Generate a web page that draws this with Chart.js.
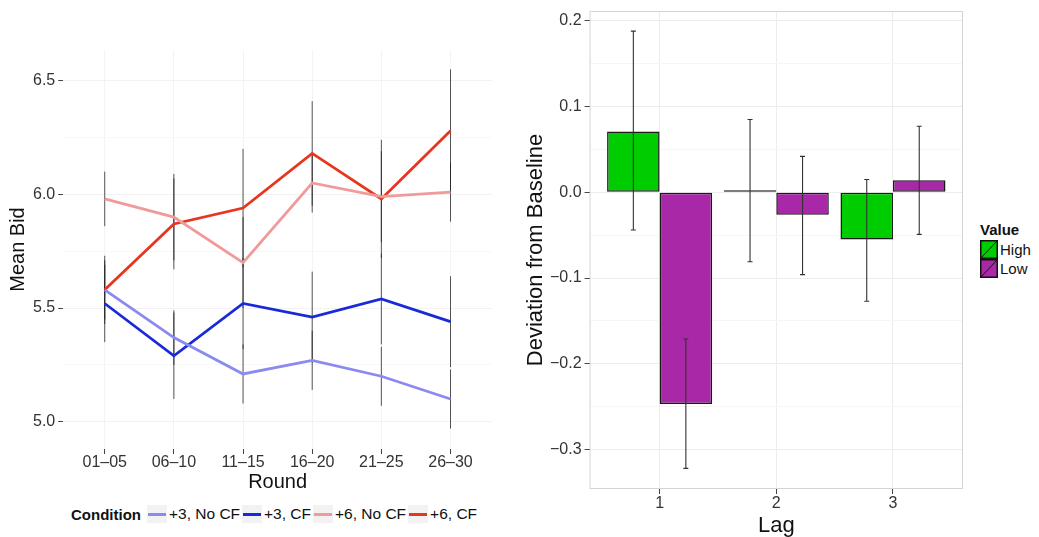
<!DOCTYPE html>
<html>
<head>
<meta charset="utf-8">
<script src="https://cdn.jsdelivr.net/npm/chart.js@4/dist/chart.umd.min.js"></script>
<style>
body { margin: 0; background: #fff; font-family: "Liberation Sans", Arial, sans-serif; }
#wrap { position: relative; width: 1039px; height: 537px; overflow: hidden; }
#bidChart { position: absolute; left: 0; top: 0; }
#lagChart { position: absolute; left: 523px; top: 0; }
#condLegend { position: absolute; left: 71px; top: 505px; display: flex; align-items: center; font-size: 15.5px; color: #111; white-space: nowrap; }
#condLegend b { margin-right: 4px; font-size: 15px; }
#condLegend .key { width: 20px; height: 18px; background: #f2f2f2; position: relative; margin: 0 2px 0 2px; }
#condLegend .key i { position: absolute; left: 1px; right: 1px; top: 7.5px; height: 3px; }
#valLegend { position: absolute; left: 980px; top: 221px; font-size: 15px; color: #111; }
#valLegend b { display: block; height: 19px; }
#valLegend .row { display: flex; align-items: center; height: 19px; }
#valLegend svg { margin-right: 2px; }
</style>
</head>
<body>
<div id="wrap">
  <canvas id="bidChart" width="500" height="495"></canvas>
  <canvas id="lagChart" width="447" height="537"></canvas>
  <div id="condLegend"></div>
  <div id="valLegend"><b>Value</b></div>
</div>
<script>
// left chart: mean bid by round
const rounds = ['01–05', '06–10', '11–15', '16–20', '21–25', '26–30'];
const conditions = ['+3, No CF', '+3, CF', '+6, No CF', '+6, CF'];
const condColors = ['#8a8af0', '#1a2ad8', '#f09a9a', '#e8351e'];
const bid3NoCF = [5.58, 5.37, 5.21, 5.27, 5.20, 5.10];
const bid3CF = [5.52, 5.29, 5.52, 5.46, 5.54, 5.44];
const bid6NoCF = [5.98, 5.90, 5.70, 6.05, 5.99, 6.01];
const bid6CF = [5.58, 5.87, 5.94, 6.18, 5.98, 6.28];
const err3NoCF = [0.15, 0.12, 0.13, 0.13, 0.13, 0.13];
const err3CF = [0.17, 0.19, 0.20, 0.20, 0.20, 0.20];
const err6NoCF = [0.12, 0.19, 0.20, 0.13, 0.20, 0.13];
const err6CF = [0.13, 0.20, 0.26, 0.23, 0.26, 0.27];
const bidMajor = [5.0, 5.5, 6.0, 6.5];
const bidMinor = [5.25, 5.75, 6.25];

// right chart: deviation from baseline by lag
const lags = [1, 2, 3];
const valueGroups = ['High', 'Low'];
const valueColors = ['#00cd00', '#a828a8'];
const devHigh = [0.071, 0.0005, -0.055];
const devLow = [-0.247, -0.026, 0.014];
const highLo = [-0.044, -0.081, -0.127];
const highHi = [0.188, 0.085, 0.015];
const lowLo = [-0.322, -0.096, -0.049];
const lowHi = [-0.171, 0.042, 0.077];
const devMajor = [-0.3, -0.2, -0.1, 0, 0.1, 0.2];
const devMinor = [-0.25, -0.15, -0.05, 0.05, 0.15];

const fontFam = '"Liberation Sans", Arial, sans-serif';
Chart.defaults.font.family = fontFam;
Chart.defaults.animation = false;

function isIn(list, v) {
    return list.some(function (m) { return Math.abs(m - v) < 1e-9; });
}
function fmt(v) {
    return v.toFixed(1).replace('-', '\u2212');
}

// ---- left chart ----
var bidSeries = [bid3NoCF, bid3CF, bid6NoCF, bid6CF];
var bidErrs = [err3NoCF, err3CF, err6NoCF, err6CF];

var bidErrorBars = {
    id: 'bidErrorBars',
    beforeDatasetsDraw: function (chart) {
        var ctx = chart.ctx, y = chart.scales.y;
        ctx.save();
        ctx.strokeStyle = 'rgba(30,30,30,0.75)';
        ctx.lineWidth = 1;
        chart.data.datasets.forEach(function (ds, d) {
            var meta = chart.getDatasetMeta(d);
            meta.data.forEach(function (pt, i) {
                var m = bidSeries[d][i], e = bidErrs[d][i];
                ctx.beginPath();
                ctx.moveTo(pt.x, y.getPixelForValue(m - e));
                ctx.lineTo(pt.x, y.getPixelForValue(m + e));
                ctx.stroke();
            });
        });
        ctx.restore();
    }
};

new Chart(document.getElementById('bidChart').getContext('2d'), {
    type: 'line',
    data: {
        datasets: conditions.map(function (c, d) {
            return {
                label: c,
                data: bidSeries[d].map(function (v, i) { return { x: i, y: v }; }),
                borderColor: condColors[d],
                borderWidth: 2.8,
                pointRadius: 0,
                tension: 0,
                fill: false
            };
        })
    },
    options: {
        responsive: false,
        layout: { padding: { top: 50, right: 8, bottom: 3, left: 0 } },
        plugins: { legend: { display: false }, tooltip: { enabled: false } },
        scales: {
            x: {
                type: 'linear',
                min: -0.6,
                max: 5.6,
                afterBuildTicks: function (scale) {
                    scale.ticks = rounds.map(function (r, i) { return { value: i }; });
                },
                ticks: {
                    callback: function (v) { return rounds[v]; },
                    color: '#333',
                    padding: 1,
                    maxRotation: 0,
                    font: { size: 16, lineHeight: 1 }
                },
                grid: { color: '#f3f3f3', tickColor: '#444', tickLength: 5 },
                border: { display: false },
                title: { display: true, text: 'Round', color: '#111', font: { size: 20, lineHeight: 1 }, padding: { top: 0, bottom: 0 } }
            },
            y: {
                min: 4.88,
                max: 6.635,
                afterBuildTicks: function (scale) {
                    scale.ticks = bidMajor.concat(bidMinor).sort().map(function (v) { return { value: v }; });
                },
                ticks: {
                    callback: function (v) { return isIn(bidMajor, v) ? v.toFixed(1) : ''; },
                    color: '#333',
                    padding: 3,
                    font: { size: 16, lineHeight: 1 }
                },
                grid: {
                    color: function (c) { return isIn(bidMajor, c.tick.value) ? '#f2f2f2' : '#f8f8f8'; },
                    tickColor: function (c) { return isIn(bidMajor, c.tick.value) ? '#444' : 'rgba(0,0,0,0)'; },
                    tickLength: 5
                },
                border: { display: false },
                title: { display: true, text: 'Mean Bid', color: '#111', font: { size: 20, lineHeight: 1 }, padding: { top: 8, bottom: 2 } }
            }
        }
    },
    plugins: [bidErrorBars]
});

// ---- right chart ----
var devSeries = [devHigh, devLow];
var devLo = [highLo, lowLo];
var devHi = [highHi, lowHi];

var lagErrorBars = {
    id: 'lagErrorBars',
    afterDatasetsDraw: function (chart) {
        var ctx = chart.ctx, y = chart.scales.y, a = chart.chartArea;
        ctx.save();
        ctx.strokeStyle = '#333';
        ctx.lineWidth = 1.1;
        chart.data.datasets.forEach(function (ds, d) {
            var meta = chart.getDatasetMeta(d);
            meta.data.forEach(function (bar, i) {
                var x = bar.x, y0 = y.getPixelForValue(devLo[d][i]), y1 = y.getPixelForValue(devHi[d][i]);
                ctx.beginPath();
                ctx.moveTo(x, y0); ctx.lineTo(x, y1);
                ctx.moveTo(x - 2.5, y0); ctx.lineTo(x + 2.5, y0);
                ctx.moveTo(x - 2.5, y1); ctx.lineTo(x + 2.5, y1);
                ctx.stroke();
            });
        });
        ctx.strokeStyle = '#d4d4d4';
        ctx.lineWidth = 1;
        ctx.strokeRect(a.left + 0.5, a.top + 0.5, a.right - a.left - 1, a.bottom - a.top - 1);
        ctx.restore();
    }
};

new Chart(document.getElementById('lagChart').getContext('2d'), {
    type: 'bar',
    data: {
        datasets: valueGroups.map(function (g, d) {
            return {
                label: g,
                data: devSeries[d].map(function (v, i) { return { x: lags[i], y: v }; }),
                backgroundColor: valueColors[d],
                borderColor: '#1a1a1a',
                borderWidth: 1.5,
                borderSkipped: false,
                minBarLength: 2,
                categoryPercentage: 0.9,
                barPercentage: 1.0
            };
        })
    },
    options: {
        responsive: false,
        layout: { padding: { top: 8, right: 7, bottom: 0, left: 0 } },
        plugins: { legend: { display: false }, tooltip: { enabled: false } },
        scales: {
            x: {
                type: 'linear',
                min: 0.4,
                max: 3.6,
                offset: false,
                afterBuildTicks: function (scale) {
                    scale.ticks = lags.map(function (l) { return { value: l }; });
                },
                ticks: { color: '#333', padding: 2, font: { size: 16, lineHeight: 1 } },
                grid: { offset: false, color: '#ececec', tickColor: '#444', tickLength: 5 },
                border: { display: false },
                title: { display: true, text: 'Lag', color: '#111', font: { size: 22, lineHeight: 1 }, padding: { top: 1, bottom: 0 } }
            },
            y: {
                min: -0.346,
                max: 0.2115,
                afterBuildTicks: function (scale) {
                    scale.ticks = devMajor.concat(devMinor).sort(function (a, b) { return a - b; }).map(function (v) { return { value: v }; });
                },
                ticks: {
                    callback: function (v) { return isIn(devMajor, v) ? fmt(v) : ''; },
                    color: '#333',
                    padding: 3,
                    font: { size: 16, lineHeight: 1 }
                },
                grid: {
                    color: function (c) { return isIn(devMajor, c.tick.value) ? '#ececec' : '#f6f6f6'; },
                    tickColor: function (c) { return isIn(devMajor, c.tick.value) ? '#444' : 'rgba(0,0,0,0)'; },
                    tickLength: 5
                },
                border: { display: false },
                title: { display: true, text: 'Deviation from Baseline', color: '#111', font: { size: 22, lineHeight: 1 }, padding: { top: 2, bottom: 0 } }
            }
        }
    },
    plugins: [lagErrorBars]
});

// ---- legends ----
var condLegend = document.getElementById('condLegend');
condLegend.innerHTML = '<b>Condition</b>' + conditions.map(function (c, d) {
    return '<span class="key"><i style="background:' + condColors[d] + '"></i></span><span>' + c + '</span>';
}).join('');

var valLegend = document.getElementById('valLegend');
valueGroups.forEach(function (g, d) {
    var row = document.createElement('div');
    row.className = 'row';
    row.innerHTML = '<svg width="18" height="19"><rect x="0.75" y="0.75" width="16.5" height="17.5" fill="' + valueColors[d] +
        '" stroke="#111" stroke-width="1.5"/><line x1="1" y1="18" x2="17" y2="1" stroke="#111" stroke-width="1"/></svg><span>' + g + '</span>';
    valLegend.appendChild(row);
});
</script>
</body>
</html>
